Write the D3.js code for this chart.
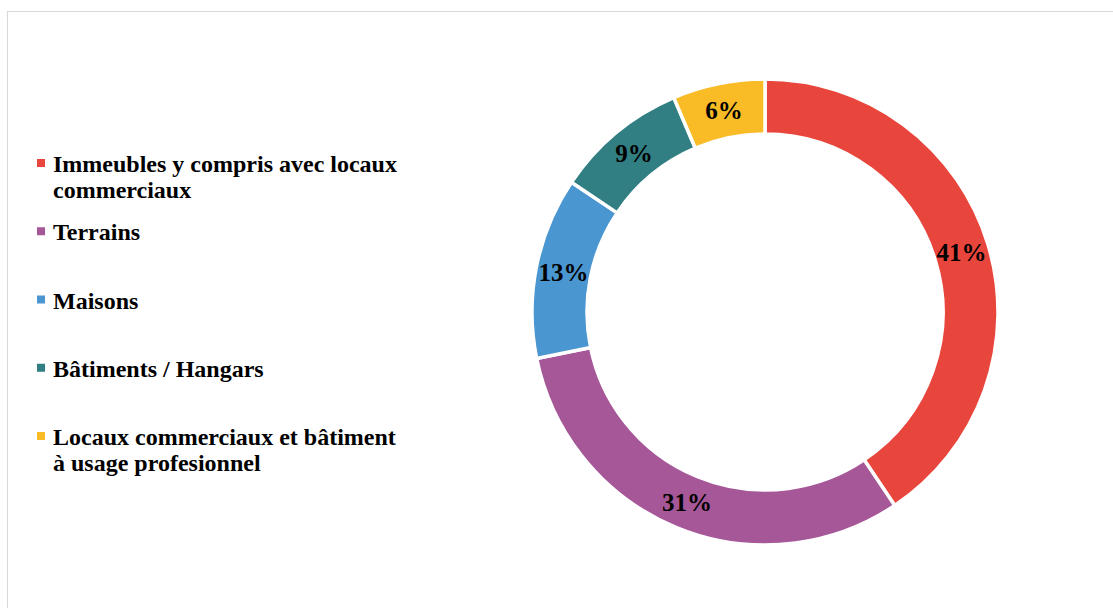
<!DOCTYPE html>
<html>
<head>
<meta charset="utf-8">
<script src="https://cdn.jsdelivr.net/npm/d3@7"></script>
<style>
  body { margin: 0; background: #fff; }
  svg { display: block; font-family: "Liberation Serif", "Times New Roman", serif; }
</style>
</head>
<body>
<svg width="1113" height="608"></svg>
<script>
// data
const categories = [
  "Immeubles y compris avec locaux commerciaux",
  "Terrains",
  "Maisons",
  "Bâtiments / Hangars",
  "Locaux commerciaux et bâtiment à usage profesionnel"
];
const legendLines = [
  ["Immeubles y compris avec locaux", "commerciaux"],
  ["Terrains"],
  ["Maisons"],
  ["Bâtiments / Hangars"],
  ["Locaux commerciaux et bâtiment", "à usage profesionnel"]
];
// shares; labels show them rounded
const values = [40.6, 31.2, 12.6, 9.2, 6.4];
const colors = ["#e8453c", "#a65798", "#4a96d0", "#317f82", "#f9bc26"];

const svg = d3.select("svg");

// chart frame
svg.append("rect")
  .attr("x", 7.5).attr("y", 11.5)
  .attr("width", 1120).attr("height", 620)
  .attr("fill", "none")
  .attr("stroke", "#d9d9d9")
  .attr("stroke-width", 1);

const cx = 765, cy = 312;
const outerR = 233, innerR = 178;

const pie = d3.pie().sort(null).value(d => d);
const arc = d3.arc().innerRadius(innerR).outerRadius(outerR);
const labelArc = d3.arc().innerRadius((innerR + outerR) / 2).outerRadius((innerR + outerR) / 2);

const g = svg.append("g").attr("transform", `translate(${cx},${cy})`);
const arcs = pie(values);

g.selectAll("path")
  .data(arcs)
  .enter().append("path")
  .attr("d", arc)
  .attr("fill", (d, i) => colors[i])
  .attr("stroke", "#fff")
  .attr("stroke-width", 3.5)
  .attr("stroke-linejoin", "miter");

g.selectAll("text.lbl")
  .data(arcs)
  .enter().append("text")
  .attr("class", "lbl")
  .attr("transform", d => `translate(${labelArc.centroid(d)})`)
  .attr("text-anchor", "middle")
  .attr("dominant-baseline", "central")
  .attr("font-size", 25)
  .attr("font-weight", "bold")
  .attr("fill", "#000")
  .text(d => Math.round(d.data) + "%");

// legend
const legendY = d3.scalePoint().domain(d3.range(categories.length)).range([172, 445]);

const leg = svg.append("g").selectAll("g")
  .data(legendLines)
  .enter().append("g")
  .attr("transform", (d, i) => `translate(0,${legendY(i)})`);

leg.append("rect")
  .attr("x", 37).attr("y", -13)
  .attr("width", 8).attr("height", 8)
  .attr("fill", (d, i) => colors[i]);

leg.append("text")
  .attr("x", 53)
  .attr("font-size", 24)
  .attr("font-weight", "bold")
  .attr("fill", "#000")
  .selectAll("tspan")
  .data(d => d)
  .enter().append("tspan")
  .attr("x", 53)
  .attr("y", (d, i) => i * 26)
  .text(d => d);
</script>
</body>
</html>
